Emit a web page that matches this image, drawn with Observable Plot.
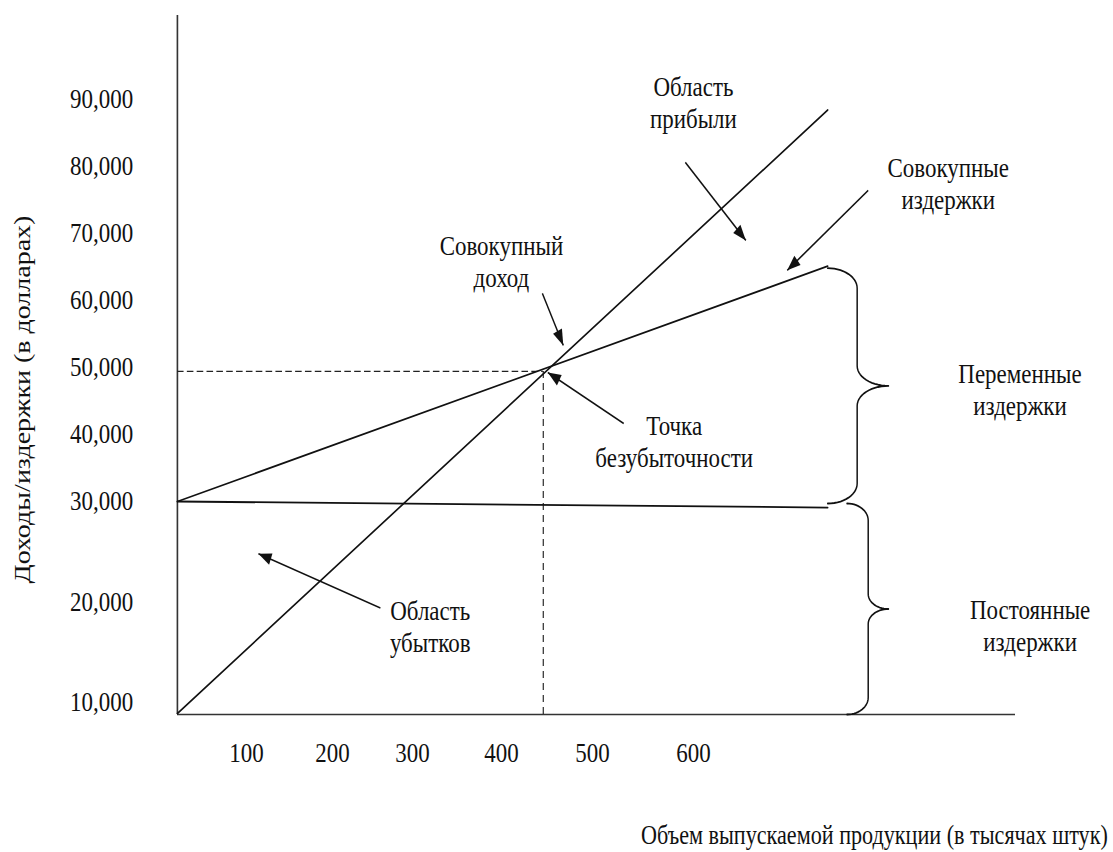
<!DOCTYPE html>
<html>
<head>
<meta charset="utf-8">
<script src="https://cdn.jsdelivr.net/npm/d3@7"></script>
<script src="https://cdn.jsdelivr.net/npm/@observablehq/plot@0.6"></script>
<style>
  html, body { margin: 0; padding: 0; background: #fff; }
  #chart svg { display: block; }
</style>
</head>
<body>
<div id="chart"></div>
<script>
// ---------------- DATA ----------------
// Output volume (thousand units) at the start and end of each line
const volume = [0, 746];
const revenue = [8900, 88400];     // Совокупный доход
const totalCost = [30000, 65100];  // Совокупные издержки
const fixedCost = [30000, 29400];  // Постоянные издержки
const breakEvenVolume = 446;
const breakEvenValue = 49400;

const xTicks = [100, 200, 300, 400, 500, 600];
const yTicks = [10000, 20000, 30000, 40000, 50000, 60000, 70000, 80000, 90000];

const labelTexts = ["Область\nприбыли", "Совокупные\nиздержки", "Совокупный\nдоход",
  "Точка\nбезубыточности", "Область\nубытков", "Переменные\nиздержки", "Постоянные\nиздержки"];
const labelVolume = [600, 877, 400, 581, 320, 955, 966];
const labelValue = [89700, 77530, 65970, 39100, 17650, 46790, 17700];

const arrowFromVolume = [592, 790, 445, 531, 260];
const arrowFromValue = [80600, 76400, 61040, 41640, 19400];
const arrowToVolume = [657, 702, 468, 451, 114];
const arrowToValue = [68950, 64480, 53280, 49250, 24800];

// Braces: [lower value, upper value]
const braceSpans = [[29800, 64800], [8800, 29800]];
const braceEndVolume = [746, 767];
const braceSpineVolume = [778, 790];
const braceTipVolume = [812, 812];

const yTitle = "Доходы/издержки (в долларах)";
const xTitle = "Объем выпускаемой продукции (в тысячах штук)";

// ---------------- LAYOUT ----------------
const OUT_W = 1113, H = 852;
const W = 1357;                 // internal width; squeezed horizontally to OUT_W
const S = OUT_W / W;
const FONT = "'Liberation Serif', 'Times New Roman', serif";
const FS = 28;

const yMin = 8800, yMax = 102500;
const xDomain = [0, 100, 200, 300, 400, 500, 600, 1100];
const xRange = [177, 246, 332, 412, 501, 592, 693, 1153].map(v => v / S);
const yDomain = [yMin, 30000, yMax];
const yRange = [714, 501, 15];

const xs = d3.scaleLinear().domain(xDomain).range(xRange);
const ys = d3.scaleLinear().domain(yDomain).range(yRange);

// build tables
const lineData = [];
[["revenue", revenue], ["total", totalCost], ["fixed", fixedCost]].forEach(([name, vals]) => {
  vals.forEach((v, i) => lineData.push({series: name, volume: volume[i], value: v}));
});
const labels = labelTexts.map((t, i) => ({text: t, volume: labelVolume[i], value: labelValue[i]}));
const arrows = arrowFromVolume.map((_, i) => ({
  x1: arrowFromVolume[i], y1: arrowFromValue[i], x2: arrowToVolume[i], y2: arrowToValue[i]
}));

function bracePoints(k, r, rt) {
  const x0 = xs(braceEndVolume[k]), x1 = xs(braceSpineVolume[k]), x2 = xs(braceTipVolume[k]);
  const a = ys(braceSpans[k][0]), b = ys(braceSpans[k][1]);
  const yt = Math.min(a, b), yb = Math.max(a, b), ym = (yt + yb) / 2;
  const pts = [], N = 14;
  for (let i = 0; i <= N; i++) { const t = i / N * Math.PI / 2; pts.push([x0 + (x1 - x0) * Math.sin(t), yt + r - r * Math.cos(t)]); }
  for (let i = 0; i <= N; i++) { const t = i / N * Math.PI / 2; pts.push([x2 - (x2 - x1) * Math.cos(t), ym - rt + rt * Math.sin(t)]); }
  for (let i = 0; i <= N; i++) { const t = i / N * Math.PI / 2; pts.push([x2 - (x2 - x1) * Math.sin(t), ym + rt - rt * Math.cos(t)]); }
  for (let i = 0; i <= N; i++) { const t = i / N * Math.PI / 2; pts.push([x0 + (x1 - x0) * Math.cos(t), yb - r + r * Math.sin(t)]); }
  return pts.map(([px, py]) => ({brace: k, volume: xs.invert(px), value: ys.invert(py)}));
}
const braceData = [...bracePoints(0, 20, 20), ...bracePoints(1, 17, 15)];

const fmt = d3.format(",");

const svg = Plot.plot({
  width: W,
  height: H,
  marginLeft: 177 / S,
  marginRight: W - 1015 / S,
  marginTop: 15,
  marginBottom: H - 714,
  style: {fontFamily: FONT, fontSize: FS + "px", color: "#111", background: "#fff"},
  x: {type: "linear", domain: xDomain, range: xRange, axis: null},
  y: {type: "linear", domain: yDomain, range: yRange, axis: null},
  marks: [
    // axes lines
    Plot.ruleX([0], {y1: yMin, y2: yMax, stroke: "#333", strokeWidth: 2}),
    Plot.ruleY([yMin], {x1: 0, x2: 950, stroke: "#333", strokeWidth: 1.6}),
    // tick labels
    Plot.text(yTicks, {x: 0, y: d => d, text: d => fmt(d), textAnchor: "end", dx: -54,
      fontSize: FS, fontFamily: FONT, fill: "#111"}),
    Plot.text(xTicks, {x: d => d, y: yMin, text: d => String(d), dy: 39,
      fontSize: FS, fontFamily: FONT, fill: "#111"}),
    // break-even guides
    Plot.ruleY([breakEvenValue], {x1: 0, x2: breakEvenVolume, stroke: "#222", strokeWidth: 1.2, strokeDasharray: "8,4"}),
    Plot.ruleX([breakEvenVolume], {y1: yMin, y2: breakEvenValue, stroke: "#222", strokeWidth: 1.4, strokeDasharray: "7,5"}),
    // main lines
    Plot.line(lineData, {x: "volume", y: "value", z: "series", stroke: "#111", strokeWidth: 1.8}),
    // braces
    Plot.line(braceData, {x: "volume", y: "value", z: "brace", stroke: "#111", strokeWidth: 1.8}),
    // arrows
    Plot.link(arrows, {x1: "x1", y1: "y1", x2: "x2", y2: "y2", stroke: "#111", strokeWidth: 1.7}),
    // annotation labels
    Plot.text(labels, {x: "volume", y: "value", text: "text", fontSize: FS, fontFamily: FONT,
      lineHeight: 32 / FS, fill: "#111"}),
    // axis titles
    Plot.text([yTitle], {frameAnchor: "left", text: d => d, rotate: -90, textAnchor: "middle",
      lineAnchor: "middle", dx: (22 - 177) / S, dy: 399 - (15 + 714) / 2,
      fontSize: FS, fontFamily: FONT, fill: "#111"}),
    Plot.text([xTitle], {frameAnchor: "bottom", text: d => d, textAnchor: "middle", lineAnchor: "middle",
      dx: (874 - 596) / S, dy: 121, fontSize: 27, fontFamily: FONT, fill: "#111"})
  ]
});

// filled arrowheads for the annotation arrows
const NS = "http://www.w3.org/2000/svg";
const defs = document.createElementNS(NS, "defs");
const marker = document.createElementNS(NS, "marker");
marker.setAttribute("id", "head");
marker.setAttribute("viewBox", "-18 -8 20 16");
marker.setAttribute("markerWidth", "20");
marker.setAttribute("markerHeight", "16");
marker.setAttribute("markerUnits", "userSpaceOnUse");
marker.setAttribute("refX", "0");
marker.setAttribute("refY", "0");
marker.setAttribute("orient", "auto");
const mp = document.createElementNS(NS, "path");
mp.setAttribute("d", "M0,0L-16,-6L-16,6Z");
mp.setAttribute("fill", "#111");
marker.appendChild(mp);
defs.appendChild(marker);
svg.insertBefore(defs, svg.firstChild);
svg.querySelectorAll('g[aria-label="link"] path, g[aria-label="link"] line').forEach(p => {
  p.setAttribute("marker-end", "url(#head)");
});

// squeeze horizontally to the output width
svg.setAttribute("width", OUT_W);
svg.setAttribute("height", H);
svg.setAttribute("viewBox", `0 0 ${W} ${H}`);
svg.setAttribute("preserveAspectRatio", "none");
svg.style.width = OUT_W + "px";
svg.style.height = H + "px";
svg.style.maxWidth = "none";

document.getElementById("chart").appendChild(svg);
</script>
</body>
</html>
